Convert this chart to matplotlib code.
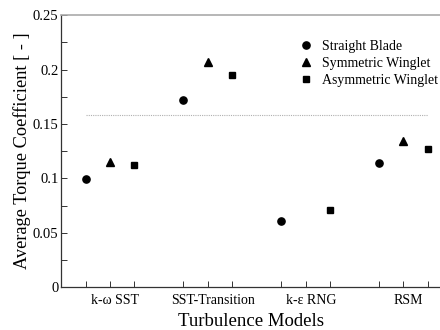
import numpy as np
from matplotlib import pyplot as plt

plt.rcParams['font.family'] = ['Liberation Serif', 'DejaVu Serif']

models = ["k-\u03c9 SST", "SST-Transition", "k-\u03b5 RNG", "RSM"]
straight = [0.099, 0.172, 0.061, 0.114]
symmetric = [0.115, 0.207, np.nan, 0.134]
asymmetric = [0.112, 0.195, 0.071, 0.127]
reference_level = 0.158

group = np.arange(len(models)) * 4
fig = plt.figure(figsize=(4.4, 3.3), dpi=100)
ax = fig.add_axes([0.139, 0.13, 0.861, 0.824])

ax.plot(group, straight, 'o', color='black', markersize=5.2, linestyle='none', label="Straight Blade")
ax.plot(group + 1, symmetric, '^', color='black', markersize=5.2, linestyle='none', label="Symmetric Winglet")
ax.plot(group + 2, asymmetric, 's', color='black', markersize=4.6, linestyle='none', label="Asymmetric Winglet")
ax.plot([group[0], group[-1] + 2], [reference_level, reference_level], linestyle=(0, (1, 1)),
        color='#b0b0b0', linewidth=0.8)

ax.set_xlim(-1, 14.5)
ax.set_ylim(0, 0.25)

ticks = [g + k for g in group for k in range(3)]
ax.set_xticks(ticks)
ax.set_xticklabels([])
ax.set_xticks(group + 1.22, minor=True)
ax.set_xticklabels(models, minor=True, fontsize=10)
ax.tick_params(axis='x', which='major', direction='in', length=4, width=0.7, color='#333333')
ax.tick_params(axis='x', which='minor', length=0, pad=5)

ax.set_yticks([0, 0.05, 0.1, 0.15, 0.2, 0.25])
ax.set_yticklabels(["0", "0.05", "0.1", "0.15", "0.2", "0.25"], fontsize=10.5)
ax.set_yticks(np.arange(0.025, 0.25, 0.05), minor=True)
ax.tick_params(axis='y', which='both', direction='in', length=4, width=0.7, color='#333333', pad=2)

ax.spines['right'].set_visible(False)
ax.spines['top'].set_color('#aaaaaa')
ax.spines['top'].set_linewidth(1.2)
for s in ['left', 'bottom']:
    ax.spines[s].set_color('#333333')
    ax.spines[s].set_linewidth(0.9)

ax.set_xlabel("Turbulence Models", fontsize=13.5, labelpad=4.5)
ax.set_ylabel("Average Torque Coefficient [ - ]", fontsize=13.2, labelpad=1)

ax.legend(loc='upper left', bbox_to_anchor=(0.59, 0.955), frameon=False, fontsize=10,
          handletextpad=0.6, labelspacing=0.3, handlelength=1.2)

fig.savefig("out.png", dpi=100)
